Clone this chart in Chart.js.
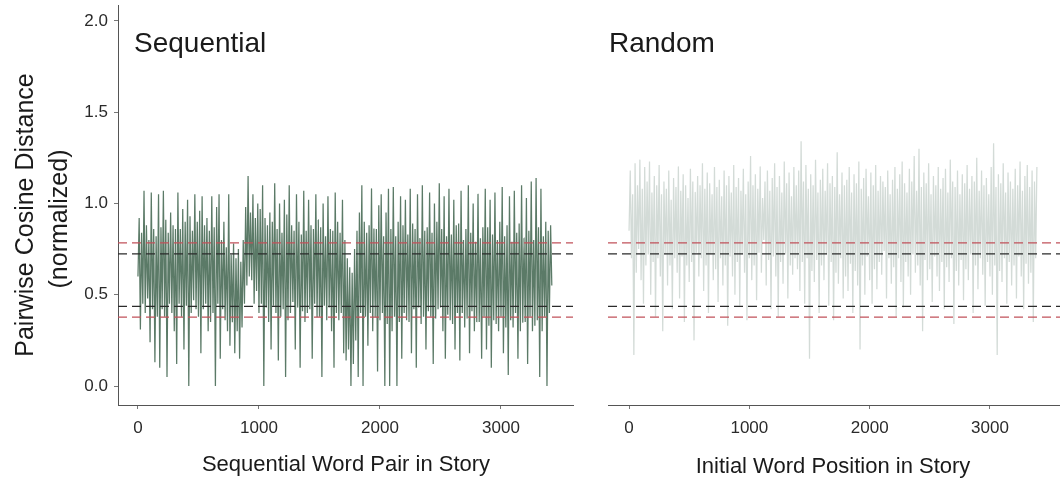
<!DOCTYPE html>
<html>
<head>
<meta charset="utf-8">
<script src="https://cdn.jsdelivr.net/npm/chart.js@4.4.1/dist/chart.umd.min.js"></script>
<style>
  body { margin: 0; background: #fff; }
  #wrap { position: relative; width: 1060px; height: 482px; }
  canvas { position: absolute; top: 0; }
  #seqChart { left: 0; }
  #rndChart { left: 580px; }
</style>
</head>
<body>
<div id="wrap">
  <canvas id="seqChart" width="580" height="482" style="width:580px;height:482px"></canvas>
  <canvas id="rndChart" width="480" height="482" style="width:480px;height:482px"></canvas>
</div>
<script>
// one value every STEP word positions (local peaks / troughs)
const STEP = 10;

const sequentialValues = [
  0.60,0.92,0.31,0.84,0.45,1.07,0.40,0.88,0.48,0.80,0.24,1.06,0.42,0.86,0.13,0.82,0.38,1.05,0.10,0.87,
  0.42,1.07,0.38,0.91,0.05,0.84,0.45,0.95,0.40,0.88,0.30,0.86,0.12,1.06,0.45,0.86,0.38,0.97,0.20,0.90,
  0.44,1.02,0.00,0.93,0.40,0.85,0.47,1.05,0.42,0.90,0.38,0.96,0.18,1.04,0.42,0.88,0.45,0.92,0.30,0.85,
  0.35,1.04,0.40,0.87,0.00,0.98,0.45,1.05,0.15,0.80,0.42,0.90,0.36,0.76,0.30,1.05,0.22,0.72,0.35,0.78,
  0.18,0.70,0.30,0.75,0.15,0.68,0.32,0.80,0.45,0.98,0.55,1.15,0.60,0.95,0.58,1.05,0.45,0.92,0.52,1.00,
  0.40,0.97,0.45,1.10,0.00,0.92,0.43,0.88,0.35,0.95,0.20,0.90,0.44,1.11,0.40,0.86,0.14,1.00,0.38,0.84,
  0.42,1.02,0.05,0.94,0.36,1.10,0.40,0.88,0.46,0.85,0.20,1.05,0.43,0.90,0.10,0.83,0.41,1.07,0.35,0.85,
  0.40,1.02,0.42,0.88,0.15,0.86,0.45,1.05,0.38,0.91,0.38,0.87,0.05,1.00,0.44,0.82,0.36,1.04,0.43,0.86,
  0.30,0.85,0.10,1.06,0.40,0.90,0.36,0.84,0.40,1.02,0.18,0.80,0.14,0.70,0.20,0.65,0.00,0.62,0.12,0.75,
  0.25,0.85,0.05,0.95,0.40,1.10,0.00,0.90,0.38,0.84,0.22,0.88,0.40,1.08,0.30,0.86,0.38,0.86,0.08,0.99,
  0.36,1.05,0.40,0.82,0.00,0.95,0.34,1.08,0.00,0.86,0.30,1.09,0.38,0.82,0.00,0.90,0.35,1.04,0.15,0.88,
  0.40,1.02,0.36,0.83,0.35,1.08,0.18,0.89,0.42,0.86,0.10,1.05,0.43,0.81,0.34,1.10,0.38,0.85,0.20,0.87,
  0.41,1.06,0.38,0.84,0.12,1.00,0.37,0.90,0.42,1.11,0.43,0.86,0.30,1.04,0.15,0.82,0.39,1.08,0.36,0.83,
  0.34,1.02,0.20,0.88,0.40,0.89,0.14,1.07,0.40,0.80,0.32,0.86,0.37,1.10,0.18,0.84,0.41,1.00,0.30,0.79,
  0.35,1.05,0.35,0.81,0.15,0.87,0.38,1.08,0.20,0.87,0.33,1.02,0.10,0.83,0.36,1.06,0.34,0.80,0.30,0.90,
  0.38,1.09,0.18,0.82,0.32,0.88,0.06,1.04,0.36,0.79,0.32,1.07,0.40,0.84,0.15,0.89,0.30,1.10,0.35,0.81,
  0.35,1.03,0.12,0.85,0.38,1.12,0.30,0.80,0.33,1.14,0.36,0.87,0.05,1.08,0.30,0.82,0.38,0.90,0.00,0.85,
  0.40,0.88,0.55
];

const randomValues = [
  0.85,1.18,0.70,1.05,0.17,1.22,0.62,1.10,0.75,1.24,0.58,1.08,0.45,1.20,0.66,1.12,0.72,1.23,0.50,1.06,
  0.68,1.15,0.38,1.10,0.70,1.21,0.60,1.05,0.30,1.12,0.72,1.08,0.55,1.18,0.66,1.02,0.42,1.14,0.70,1.09,
  0.62,1.20,0.48,1.07,0.71,1.16,0.35,1.10,0.66,1.03,0.57,1.19,0.68,1.12,0.25,1.06,0.73,1.15,0.60,1.10,
  0.70,1.22,0.52,1.08,0.66,1.17,0.40,1.11,0.72,1.05,0.58,1.20,0.64,1.09,0.46,1.13,0.70,1.04,0.55,1.18,
  0.66,1.10,0.33,1.15,0.71,1.06,0.60,1.21,0.50,1.09,0.68,1.14,0.44,1.07,0.72,1.19,0.62,1.05,0.36,1.12,
  0.70,1.26,0.58,1.10,0.66,1.16,0.47,1.08,0.73,1.20,0.62,1.03,0.80,1.12,0.55,1.18,0.69,1.07,0.42,1.14,
  0.71,1.22,0.60,1.09,0.38,1.15,0.68,1.06,0.56,1.23,0.72,1.11,0.48,1.17,0.66,1.04,0.61,1.20,0.70,1.10,
  0.64,1.18,0.52,1.34,0.68,1.12,0.45,1.21,0.70,1.08,0.15,1.16,0.63,1.10,0.57,1.24,0.69,1.06,0.40,1.13,
  0.66,1.19,0.58,1.07,0.72,1.22,0.44,1.11,0.68,1.15,0.36,1.09,0.62,1.28,0.56,1.05,0.70,1.17,0.48,1.10,
  0.60,1.13,0.52,1.20,0.67,1.06,0.40,1.16,0.63,1.11,0.55,1.23,0.20,1.08,0.66,1.14,0.50,1.19,0.71,1.04,
  0.58,1.17,0.45,1.10,0.64,1.21,0.53,1.07,0.68,1.15,0.61,1.12,0.74,1.09,0.48,1.18,0.70,1.05,0.56,1.13,
  0.65,1.20,0.38,1.08,0.70,1.16,0.57,1.23,0.43,1.11,0.68,1.06,0.60,1.19,0.50,1.12,0.72,1.26,0.62,1.07,
  0.66,1.30,0.55,1.09,0.30,1.17,0.69,1.11,0.58,1.22,0.64,1.05,0.46,1.15,0.71,1.10,0.60,1.20,0.52,1.08,
  0.68,1.14,0.42,1.19,0.65,1.06,0.57,1.24,0.70,1.12,0.34,1.09,0.63,1.18,0.55,1.05,0.69,1.16,0.47,1.11,
  0.64,1.21,0.58,1.08,0.72,1.15,0.40,1.12,0.66,1.25,0.53,1.07,0.70,1.18,0.61,1.10,0.44,1.14,0.68,1.05,
  0.60,1.20,0.50,1.33,0.66,1.09,0.17,1.16,0.63,1.11,0.57,1.22,0.70,1.06,0.45,1.17,0.68,1.12,0.55,1.08,
  0.66,1.19,0.48,1.10,0.71,1.23,0.60,1.07,0.42,1.15,0.67,1.21,0.56,1.09,0.62,1.18,0.35,1.12,0.70,1.20
];

// reference lines (normalized distance)
const redLevels = [0.784, 0.377];
const blackLevels = [0.724, 0.436];

const yTicks = [0.0, 0.5, 1.0, 1.5, 2.0];
const xTicks = [0, 1000, 2000, 3000];

const FONT = '"Liberation Sans", Arial, sans-serif';

function toPoints(values) {
  return values.map((v, i) => ({ x: i * STEP, y: v }));
}

function levelLines(levels, color, xMin, xMax) {
  return levels.map(v => ({
    data: [{ x: xMin, y: v }, { x: xMax, y: v }],
    borderColor: color,
    borderWidth: 1.3,
    borderDash: [9, 5],
    pointRadius: 0,
    order: 1
  }));
}

// text labels drawn straight onto the canvas
function textPlugin(labels) {
  return {
    id: 'texts',
    afterDraw(chart) {
      const ctx = chart.ctx;
      labels.forEach(t => {
        ctx.save();
        ctx.fillStyle = '#1a1a1a';
        ctx.font = t.font;
        ctx.textAlign = t.align;
        ctx.textBaseline = 'alphabetic';
        ctx.translate(t.x, t.y);
        if (t.rotate) ctx.rotate(t.rotate);
        ctx.fillText(t.text, 0, 0);
        ctx.restore();
      });
    }
  };
}

function makeChart(canvasId, values, color, xMin, xMax, showY, yWidth, padRight, labels) {
  const series = {
    data: toPoints(values),
    borderColor: color,
    borderWidth: 1.25,
    pointRadius: 0,
    tension: 0.001,   // avoids the min/max fast path so every zigzag is drawn
    order: 2
  };
  return new Chart(document.getElementById(canvasId), {
    type: 'line',
    data: {
      datasets: [
        ...levelLines(redLevels, '#c1525b', xMin, xMax),
        ...levelLines(blackLevels, '#2b2b2b', xMin, xMax),
        series
      ]
    },
    options: {
      responsive: false,
      animation: false,
      events: [],
      layout: { padding: { top: 5, left: 0, right: padRight, bottom: 0 } },
      plugins: { legend: { display: false }, tooltip: { enabled: false } },
      scales: {
        x: {
          type: 'linear',
          min: xMin,
          max: xMax,
          afterBuildTicks: s => { s.ticks = xTicks.map(v => ({ value: v })); },
          afterFit: s => { s.height = 77; s.paddingLeft = 0; s.paddingRight = 0; },
          ticks: {
            font: { family: FONT, size: 17 },
            color: '#2a2a2a',
            padding: 9,
            maxRotation: 0,
            callback: v => String(v)
          },
          grid: { drawOnChartArea: false, tickLength: 4, color: '#777' },
          border: { color: '#555', width: 1 }
        },
        y: {
          display: showY,
          min: -0.104,
          max: 2.087,
          afterBuildTicks: s => { s.ticks = yTicks.map(v => ({ value: v })); },
          afterFit: s => { s.width = yWidth; s.paddingTop = 0; s.paddingBottom = 0; },
          ticks: {
            font: { family: FONT, size: 17 },
            color: '#2a2a2a',
            padding: 6,
            callback: v => Number(v).toFixed(1)
          },
          grid: { drawOnChartArea: false, tickLength: 4, color: '#777' },
          border: { color: '#555', width: 1 }
        }
      }
    },
    plugins: [textPlugin(labels)]
  });
}

makeChart('seqChart', sequentialValues, '#5b7a67', -165, 3595, true, 118, 7, [
  { text: 'Sequential', x: 134, y: 52, font: `28px ${FONT}`, align: 'left' },
  { text: 'Sequential Word Pair in Story', x: 346, y: 471, font: `22px ${FONT}`, align: 'center' },
  { text: 'Pairwise Cosine Distance', x: 33, y: 215, font: `25px ${FONT}`, align: 'center', rotate: -Math.PI / 2 },
  { text: '(normalized)', x: 67, y: 219, font: `25px ${FONT}`, align: 'center', rotate: -Math.PI / 2 }
]);

makeChart('rndChart', randomValues, '#d3dbd7', -175, 3582, false, 28, 0, [
  { text: 'Random', x: 29, y: 52, font: `28px ${FONT}`, align: 'left' },
  { text: 'Initial Word Position in Story', x: 253, y: 473, font: `22px ${FONT}`, align: 'center' }
]);
</script>
</body>
</html>
